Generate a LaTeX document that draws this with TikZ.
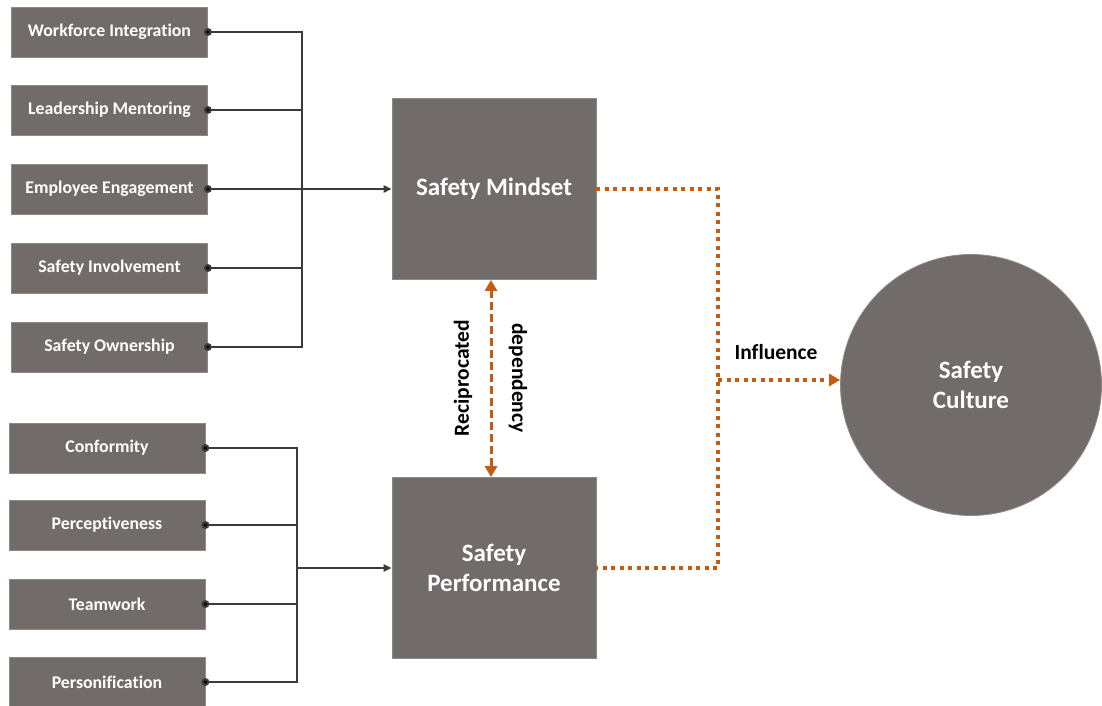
\documentclass[tikz,border=0pt]{standalone}
\usepackage{fontspec}
\setmainfont{Carlito}[Ligatures=NoCommon]
\usetikzlibrary{arrows.meta}

\definecolor{boxgray}{HTML}{716C6A}
\definecolor{edgegray}{HTML}{8E8A88}
\definecolor{wire}{HTML}{3B3B3B}
\definecolor{rust}{HTML}{C65B14}

\tikzset{
  factor/.style={fill=boxgray, draw=edgegray, line width=0.8pt, inner sep=0pt,
    minimum width=196pt, minimum height=50pt, text=white,
    font=\bfseries\fontsize{17.8}{20}\selectfont},
  core/.style={factor, minimum width=204pt, minimum height=181pt, align=center,
    font=\bfseries\fontsize{25}{30}\selectfont},
  wire/.style={draw=wire, line width=2.2pt},
  infl/.style={draw=rust, line width=3.5pt, dash pattern=on 4pt off 4.5pt},
  recip/.style={draw=rust, line width=3pt, dash pattern=on 8pt off 4pt},
  caption/.style={font=\bfseries\fontsize{21.5}{24}\selectfont},
}

\begin{document}
\begin{tikzpicture}[x=1pt,y=-1pt]
  \useasboundingbox (0,0) rectangle (1102,706);

  % mindset factors
  \node[factor] (wi) at (109.5,32)  {Workforce Integration};
  \node[factor] (lm) at (109.5,110) {Leadership Mentoring};
  \node[factor] (ee) at (109.5,189) {Employee Engagement};
  \node[factor] (si) at (109.5,268) {Safety Involvement};
  \node[factor] (so) at (109.5,347) {Safety Ownership};

  % performance factors
  \node[factor] (co) at (107,448) {Conformity};
  \node[factor] (pe) at (107,525) {Perceptiveness};
  \node[factor] (tw) at (107,604) {Teamwork};
  \node[factor] (ps) at (107,682) {Personification};

  % main blocks
  \node[core] (mind) at (494,189) {Safety Mindset};
  \node[core] (perf) at (494,568) {Safety\\Performance};
  \node[circle, fill=boxgray, draw=edgegray, line width=0.8pt, minimum size=261pt,
    text=white, align=center, font=\bfseries\fontsize{25}{30}\selectfont]
    (cult) at (971,385) {Safety\\Culture};

  % upper bus
  \coordinate (busA) at (302,32);
  \draw[wire] (wi.east) -- (busA) |- (so.east);
  \draw[wire] (lm.east) -- (lm.east -| busA);
  \draw[wire] (si.east) -- (si.east -| busA);
  \draw[wire, -{Triangle[length=8pt,width=7pt]}] (ee.east) -- (mind.west);

  % lower bus
  \coordinate (busB) at (297,448);
  \draw[wire] (co.east) -- (busB) |- (ps.east);
  \draw[wire] (pe.east) -- (pe.east -| busB);
  \draw[wire] (tw.east) -- (tw.east -| busB);
  \draw[wire, -{Triangle[length=8pt,width=7pt]}] (busB |- perf.west) -- (perf.west);

  \foreach \n in {wi,lm,ee,si,so,co,pe,tw,ps}
    \fill[wire] (\n.east) circle (2.8pt);

  % reciprocated dependency
  \draw[recip, {Triangle[length=11pt,width=12pt]}-{Triangle[length=11pt,width=12pt]}]
    ([xshift=-3pt]mind.south) -- ([xshift=-3pt]perf.north);
  \node[caption, rotate=90]  (rc) at (463,378) {Reciprocated};
  \node[caption, rotate=-90] (dp) at (518,378) {dependency};

  % influence on culture
  \coordinate (turn) at (718,380);
  \draw[infl] (mind.east) -| (turn) |- (perf.east);
  \draw[infl, -{Triangle[length=11pt,width=12pt]}] (turn) -- (turn -| cult.west);
  \node[caption] (inf) at (776,352) {Influence};
\end{tikzpicture}
\end{document}
